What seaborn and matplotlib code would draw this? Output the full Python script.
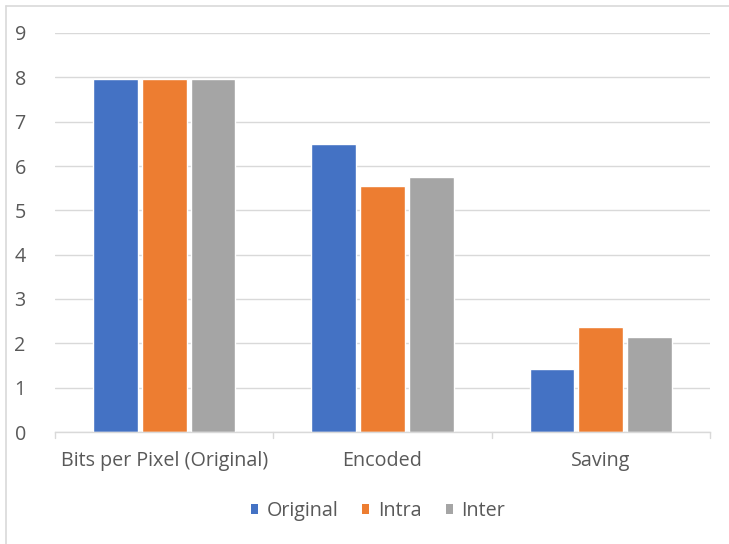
import matplotlib
matplotlib.use("Agg")
import matplotlib.pyplot as plt
from matplotlib.patches import Patch
from matplotlib.lines import Line2D
import seaborn as sns
import pandas as pd

categories = ["Bits per Pixel (Original)", "Encoded", "Saving"]
series = ["Original", "Intra", "Inter"]
original = [7.96, 6.50, 1.42]
intra = [7.96, 5.54, 2.37]
inter = [7.96, 5.76, 2.15]
y_ticks = [0, 1, 2, 3, 4, 5, 6, 7, 8, 9]

colors = ["#4472C4", "#ED7D31", "#A5A5A5"]
text_color = "#595959"
line_color = "#D9D9D9"
fs = 14.2

df = pd.DataFrame({
    "category": categories * 3,
    "series": [s for s in series for _ in categories],
    "value": original + intra + inter,
})

sns.set_theme(style="white")
plt.rcParams["font.family"] = ["Open Sans", "DejaVu Sans"]

fig = plt.figure(figsize=(7.29, 5.44), dpi=100)
W, H = 729, 544
ax = fig.add_axes([55 / W, 1 - 432 / H, (710 - 55) / W, (432 - 33) / H])

sns.barplot(data=df, x="category", y="value", hue="series", order=categories,
            hue_order=series, palette=colors, width=0.669, gap=0.082,
            ax=ax, legend=False, saturation=1, errorbar=None)

ax.set_xlim(-0.5, 2.5)
ax.set_ylim(0, 9)
ax.set_yticks(y_ticks)
ax.set_yticklabels([str(t) for t in y_ticks])
ax.set_xlabel("")
ax.set_ylabel("")
ax.yaxis.grid(True, color=line_color, linewidth=1.0)
ax.set_axisbelow(True)
for s in ["top", "right", "left"]:
    ax.spines[s].set_visible(False)
ax.spines["bottom"].set_color(line_color)
ax.spines["bottom"].set_linewidth(1.0)

ax.tick_params(axis="y", length=0, pad=21, labelsize=fs, labelcolor=text_color)
ax.tick_params(axis="x", length=0, pad=14, labelsize=fs, labelcolor=text_color)

# category boundary tick marks below the baseline
for xb in [-0.5, 0.5, 1.5, 2.5]:
    ax.plot([xb, xb], [0, -0.13], color=line_color, linewidth=1.0,
            clip_on=False, zorder=3)

handles = [Patch(facecolor=c, edgecolor="none", label=s) for c, s in zip(colors, series)]
fig.legend(handles=handles, loc="center", bbox_to_anchor=(378 / W, 1 - 511 / H),
           ncol=3, frameon=False, fontsize=fs, handlelength=0.36,
           handleheight=0.36, handletextpad=0.45, columnspacing=1.2,
           labelcolor=text_color)

# chart area border
fig.add_artist(Line2D([5.5 / W, 1.0], [1 - 6 / H, 1 - 6 / H], color=line_color,
                      linewidth=1.2, transform=fig.transFigure))
fig.add_artist(Line2D([5.5 / W, 5.5 / W], [0.0, 1 - 6 / H], color=line_color,
                      linewidth=1.2, transform=fig.transFigure))

fig.savefig("out.png", dpi=100, facecolor="white")
